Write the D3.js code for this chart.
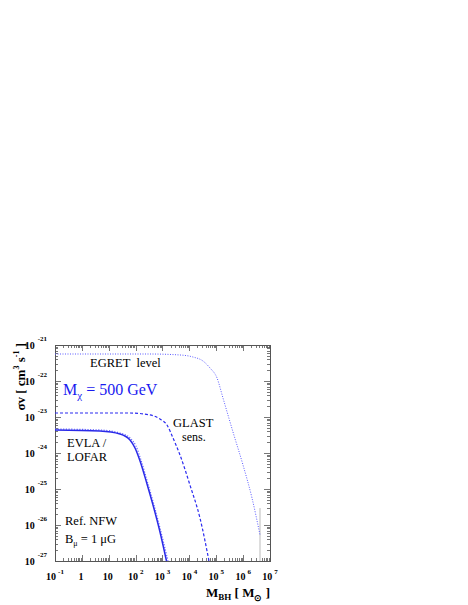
<!DOCTYPE html>
<html>
<head>
<meta charset="utf-8">
<script src="https://cdn.jsdelivr.net/npm/d3@7"></script>
<style>
  body { margin: 0; background: #fff; }
  text { font-family: "Liberation Serif", "Times New Roman", serif; }
</style>
</head>
<body>
<div id="chart"></div>
<script>
// values: [M_BH (solar masses), sigma v (cm^3 s^-1)]
var egretLevel = [[0.1,5.62e-22],[343,5.62e-22],[4480,5.28e-22],[1.36e4,4.64e-22],[3.21e4,3.59e-22],
                  [5.85e4,2.30e-22],[1.07e5,1.21e-22],[1.78e5,3.37e-23],[4.2e5,3.83e-24],
                  [9.9e5,4.64e-25],[2.14e6,5.62e-26],[4.25e6,5.28e-27]];
var glastSens = [[0.1,1.29e-23],[61.8,1.29e-23],[343,1.14e-23],[807,8.8e-24],[1470,6.0e-24],
                 [2460,2.61e-24],[4480,8.8e-25],[1.05e4,1.29e-25],[2.48e4,1.56e-26],[5.37e4,1e-27]];
var evlaSolid = [[0.1,4.36e-24],[4.72,4.08e-24],[26.2,3.37e-24],[61.8,2.30e-24],[94.8,1.38e-24],
                 [146,6.0e-25],[265,1.38e-25],[443,3.59e-26],[807,6.39e-27],[1409,1e-27]];
var evlaDotted = [[0.1,4.64e-24],[4.72,4.36e-24],[26.2,3.59e-24],[61.8,2.61e-24],[103,1.56e-24],
                  [158,6.39e-25],[289,1.38e-25],[483,3.59e-26],[880,6.39e-27],[1602,1e-27]];
// faint marker line at the end of the EGRET curve
var egretEnd = [[4.25e6,1e-27],[4.25e6,2.96e-26]];

var xTickValues = [0.1,1,10,100,1e3,1e4,1e5,1e6,1e7];
var xTickBase = ["10","1","10","10","10","10","10","10","10"];
var xTickExp  = ["-1","","","2","3","4","5","6","7"];
var yTickValues = [1e-27,1e-26,1e-25,1e-24,1e-23,1e-22,1e-21];
var yTickExp = ["-27","-26","-25","-24","-23","-22","-21"];

var width = 468, height = 605;
var pLeft = 55, pRight = 270, pTop = 345, pBottom = 561;

var svg = d3.select('#chart').append('svg')
            .attr('width', width).attr('height', height);

var x = d3.scaleLog().domain([0.1, 1e7]).range([pLeft, pRight]);
var y = d3.scaleLog().domain([1e-27, 1e-21]).range([pBottom, pTop]);

var isMajor = function(v) {
  var l = Math.log10(v);
  return Math.abs(l - Math.round(l)) < 1e-6;
};

var axisColor = '#555';
var ticks = svg.append('g').attr('stroke', axisColor).attr('stroke-width', 0.8);

x.ticks(100).forEach(function(v) {
  var len = isMajor(v) ? 6 : 3;
  var px = Math.round(x(v)) + 0.5;
  ticks.append('line').attr('x1', px).attr('x2', px).attr('y1', pBottom).attr('y2', pBottom - len);
  ticks.append('line').attr('x1', px).attr('x2', px).attr('y1', pTop).attr('y2', pTop + len);
});
y.ticks(100).forEach(function(v) {
  var len = isMajor(v) ? 6 : 3;
  var py = Math.round(y(v)) + 0.5;
  ticks.append('line').attr('y1', py).attr('y2', py).attr('x1', pLeft).attr('x2', pLeft + len);
  ticks.append('line').attr('y1', py).attr('y2', py).attr('x1', pRight).attr('x2', pRight - len);
});

svg.append('rect')
   .attr('x', pLeft + 0.5).attr('y', pTop + 0.5)
   .attr('width', pRight - pLeft).attr('height', pBottom - pTop)
   .attr('fill', 'none').attr('stroke', axisColor).attr('stroke-width', 1);

// x tick labels
xTickValues.forEach(function(v, i) {
  var t = svg.append('text')
             .attr('x', x(v) + (xTickExp[i] ? 0 : -1))
             .attr('y', 580)
             .attr('text-anchor', 'middle')
             .attr('font-size', 10).attr('font-weight', 'bold');
  t.append('tspan').text(xTickBase[i]);
  if (xTickExp[i]) {
    t.append('tspan').attr('dx', 2).attr('dy', -6).attr('font-size', 7).text(xTickExp[i]);
  }
});

// y tick labels
yTickValues.forEach(function(v, i) {
  var t = svg.append('text')
             .attr('x', 47)
             .attr('y', y(v) + 4)
             .attr('text-anchor', 'end')
             .attr('font-size', 10).attr('font-weight', 'bold');
  t.append('tspan').text('10');
  t.append('tspan').attr('dx', 3).attr('dy', -8).attr('font-size', 7).text(yTickExp[i]);
});

// axis titles
var xt = svg.append('text').attr('x', 270).attr('y', 597)
            .attr('text-anchor', 'end').attr('font-size', 13).attr('font-weight', 'bold');
xt.append('tspan').text('M');
xt.append('tspan').attr('dy', 3).attr('font-size', 9).text('BH');
xt.append('tspan').attr('dy', -3).text(' [ M');
xt.append('tspan').attr('dy', 4).attr('font-size', 9).text('\u2299');
xt.append('tspan').attr('dy', -4).text(' ]');

var yt = svg.append('text').attr('transform', 'translate(25,343) rotate(-90)')
            .attr('text-anchor', 'end').attr('font-size', 13).attr('font-weight', 'bold');
yt.append('tspan').text('\u03c3v [ cm');
yt.append('tspan').attr('dy', -6).attr('font-size', 8).text('3');
yt.append('tspan').attr('dy', 6).text(' s');
yt.append('tspan').attr('dy', -6).attr('font-size', 8).text('-1');
yt.append('tspan').attr('dy', 6).text(' ]');

// curves
var line = d3.line()
             .x(function(d) { return x(d[0]); })
             .y(function(d) { return y(d[1]); })
             .curve(d3.curveMonotoneX);

svg.append('path').datum(egretEnd).attr('d', line)
   .attr('fill', 'none').attr('stroke', '#ddd').attr('stroke-width', 2);

svg.append('path').datum(egretLevel).attr('d', line)
   .attr('fill', 'none').attr('stroke', '#5a5aff').attr('stroke-width', 1)
   .attr('stroke-dasharray', '1,1.5');
svg.append('path').datum(glastSens).attr('d', line)
   .attr('fill', 'none').attr('stroke', '#2a2af0').attr('stroke-width', 1.2)
   .attr('stroke-dasharray', '3,2');
svg.append('path').datum(evlaDotted).attr('d', line)
   .attr('fill', 'none').attr('stroke', '#6a6aff').attr('stroke-width', 1.2)
   .attr('stroke-dasharray', '1.2,1.5');
svg.append('path').datum(evlaSolid).attr('d', line)
   .attr('fill', 'none').attr('stroke', '#2a2ae8').attr('stroke-width', 1.5);

// annotations
var note = function(tx, ty, s, size, color) {
  return svg.append('text').attr('x', tx).attr('y', ty)
            .attr('font-size', size).attr('fill', color || '#000').text(s);
};
note(90, 367, 'EGRET\u00a0 level', 12.5);
note(173, 427, 'GLAST', 12.5);
note(182, 441, 'sens.', 12);
note(67, 447, 'EVLA /', 12.5);
note(67, 461, 'LOFAR', 12.5);
note(65, 525, 'Ref. NFW', 12.5);

var b = svg.append('text').attr('x', 65).attr('y', 543).attr('font-size', 12.5);
b.append('tspan').text('B');
b.append('tspan').attr('dy', 3).attr('font-size', 8).text('\u03bc');
b.append('tspan').attr('dy', -3).text(' = 1 \u03bcG');

var m = svg.append('text').attr('x', 63).attr('y', 395).attr('font-size', 16).attr('fill', '#1a1af0');
m.append('tspan').text('M');
m.append('tspan').attr('dy', 4).attr('font-size', 11).text('\u03c7');
m.append('tspan').attr('dy', -4).text(' = 500 GeV');
</script>
</body>
</html>
